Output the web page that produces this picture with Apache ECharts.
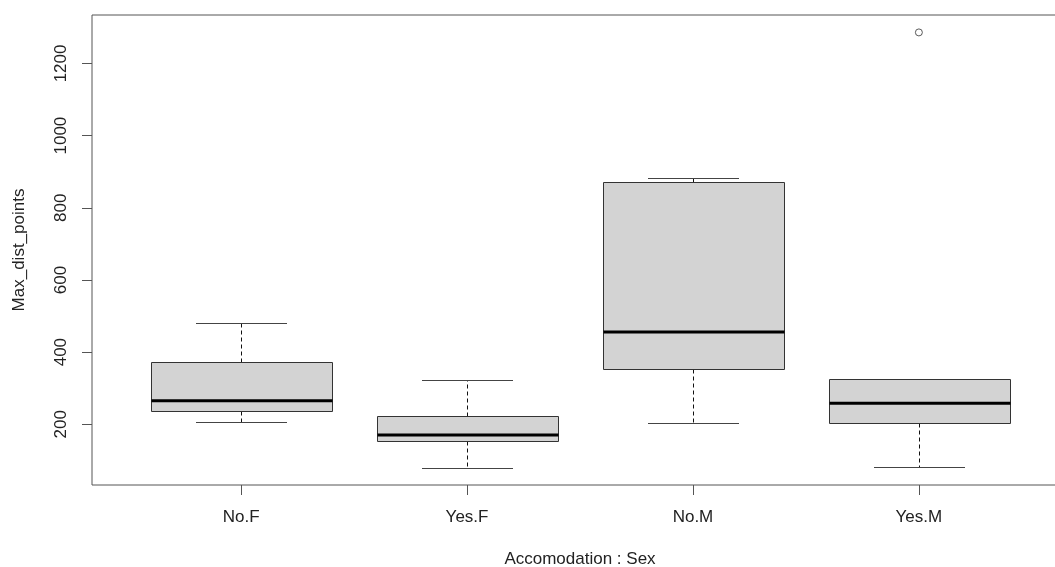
<!DOCTYPE html>
<html>
<head>
<meta charset="utf-8">
<script src="https://cdn.jsdelivr.net/npm/echarts@6/dist/echarts.min.js"></script>
<style>
  html, body { margin: 0; padding: 0; background: #fff; }
  #chart { width: 1055px; height: 567px; }
</style>
</head>
<body>
<div id="chart"></div>
<script>
// Groups (Accomodation : Sex) and their five-number summaries
const categories = ['No.F', 'Yes.F', 'No.M', 'Yes.M'];
const lowerWhisker = [206, 80, 203, 81];
const lowerHinge   = [237, 155, 354, 203];
const medians      = [265, 170, 456, 258];
const upperHinge   = [372, 224, 871, 326];
const upperWhisker = [480, 323, 883, 326];
// Points beyond the whiskers: [group index, value]
const outliers = [[3, 1286]];
const yTicks = [200, 400, 600, 800, 1000, 1200];

// Box rows: [position, lo, q1, median, q3, hi]
const boxRows = categories.map((c, i) => [
  i + 1, lowerWhisker[i], lowerHinge[i], medians[i], upperHinge[i], upperWhisker[i]
]);
const outlierRows = outliers.map(o => [o[0] + 1, o[1]]);

// Axis ranges padded by 4% of the data range, as in base R plots
const allVals = lowerWhisker.concat(upperWhisker, outliers.map(o => o[1]));
const dMin = Math.min(...allVals), dMax = Math.max(...allVals);
const pad = 0.04 * (dMax - dMin);
const xLo = 0.5, xHi = categories.length + 0.5;
const xPad = 0.04 * (xHi - xLo);

const FONT = "'Liberation Sans', Arial, sans-serif";
const TEXT = '#222';
const FRAME = '#555';

const crisp = v => Math.round(v) + 0.5;

function renderBox(params, api) {
  const x = api.value(0);
  const yLo = crisp(api.coord([x, api.value(1)])[1]);
  const yQ1 = crisp(api.coord([x, api.value(2)])[1]);
  const yMed = api.coord([x, api.value(3)])[1];
  const yQ3 = crisp(api.coord([x, api.value(4)])[1]);
  const yHi = crisp(api.coord([x, api.value(5)])[1]);
  const cx = crisp(api.coord([x, api.value(3)])[0]);
  const halfBox = api.size([0.4, 0])[0];
  const halfCap = api.size([0.2, 0])[0];
  const bl = Math.round(cx - halfBox) + 0.5, br = Math.round(cx + halfBox) + 0.5;
  const cl = Math.round(cx - halfCap), cr = Math.round(cx + halfCap);
  const dashed = { stroke: '#111', lineWidth: 1, lineDash: [4, 3] };
  const solid = { stroke: '#444', lineWidth: 1 };
  return {
    type: 'group',
    children: [
      { type: 'line', shape: { x1: cx, y1: yQ3, x2: cx, y2: yHi }, style: dashed },
      { type: 'line', shape: { x1: cx, y1: yQ1, x2: cx, y2: yLo }, style: dashed },
      { type: 'line', shape: { x1: cl, y1: yHi, x2: cr, y2: yHi }, style: solid },
      { type: 'line', shape: { x1: cl, y1: yLo, x2: cr, y2: yLo }, style: solid },
      { type: 'rect', shape: { x: bl, y: yQ3, width: br - bl, height: yQ1 - yQ3 },
        style: { fill: '#d3d3d3', stroke: '#333', lineWidth: 1 } },
      { type: 'line', shape: { x1: bl, y1: yMed, x2: br, y2: yMed },
        style: { stroke: '#000', lineWidth: 3 } }
    ]
  };
}

const chart = echarts.init(document.getElementById('chart'), null, { renderer: 'canvas' });
chart.setOption({
  animation: false,
  backgroundColor: '#fff',
  textStyle: { fontFamily: FONT },
  grid: {
    left: 92, top: 15, width: 976, height: 470,
    outerBoundsMode: 'none',
    containLabel: false,
    show: true, borderColor: FRAME, borderWidth: 1, backgroundColor: 'transparent'
  },
  xAxis: {
    type: 'value',
    min: xLo - xPad,
    max: xHi + xPad,
    name: 'Accomodation : Sex',
    nameLocation: 'middle',
    nameGap: 66,
    nameTextStyle: { fontSize: 17, color: TEXT, fontFamily: FONT },
    axisLine: { show: false },
    splitLine: { show: false },
    axisTick: {
      show: true, length: 10, inside: false,
      customValues: categories.map((c, i) => i + 1),
      lineStyle: { color: FRAME, width: 1 }
    },
    axisLabel: {
      show: true, margin: 24, fontSize: 17, color: TEXT, fontFamily: FONT,
      customValues: categories.map((c, i) => i + 1),
      formatter: v => categories[Math.round(v) - 1] || ''
    }
  },
  yAxis: {
    type: 'value',
    min: dMin - pad,
    max: dMax + pad,
    name: 'Max_dist_points',
    nameLocation: 'middle',
    nameGap: 64,
    nameRotate: 90,
    nameTextStyle: { fontSize: 17, color: TEXT, fontFamily: FONT },
    axisLine: { show: false },
    splitLine: { show: false },
    axisTick: {
      show: true, length: 10, inside: false,
      customValues: yTicks,
      lineStyle: { color: FRAME, width: 1 }
    },
    axisLabel: {
      show: true, margin: 22, rotate: 90, fontSize: 17, color: TEXT, fontFamily: FONT,
      customValues: yTicks,
      formatter: v => String(v)
    }
  },
  series: [
    {
      type: 'custom',
      renderItem: renderBox,
      data: boxRows,
      encode: { x: 0, y: [1, 2, 3, 4, 5] },
      z: 2
    },
    {
      type: 'scatter',
      data: outlierRows,
      symbol: 'circle',
      symbolSize: 7,
      itemStyle: { color: '#fff', borderColor: '#333', borderWidth: 1 },
      z: 3
    }
  ]
});
</script>
</body>
</html>
